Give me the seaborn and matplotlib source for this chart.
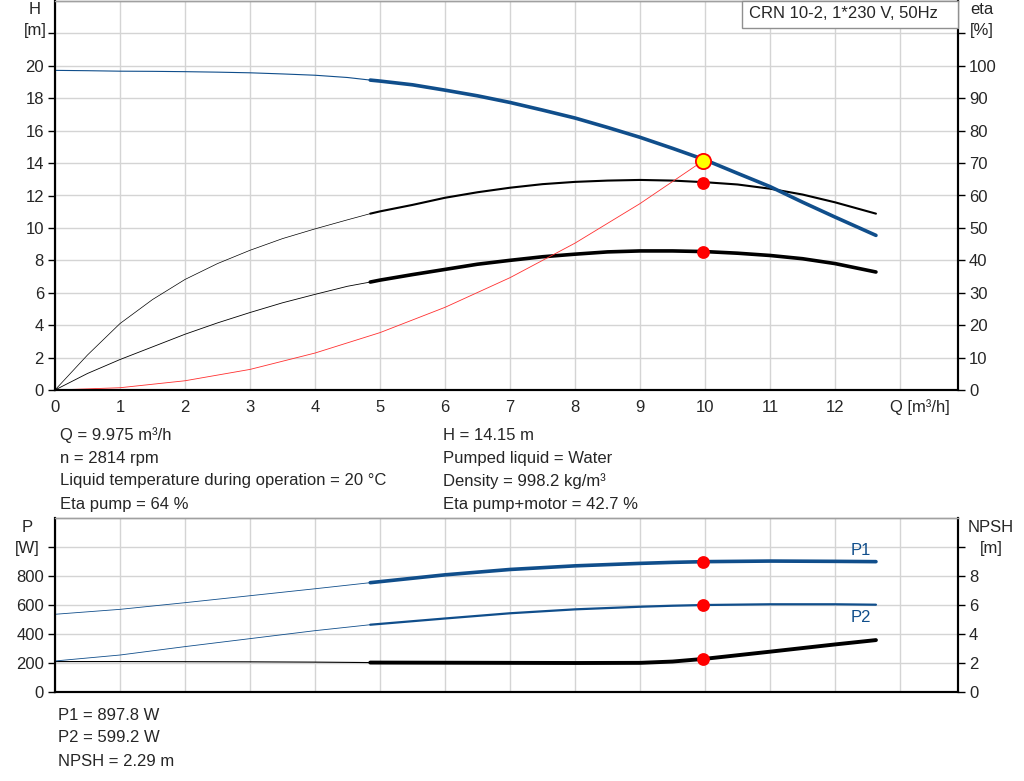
import numpy as np
import matplotlib
matplotlib.use("Agg")
import matplotlib.pyplot as plt
from matplotlib.patches import Rectangle
import seaborn as sns

# pump curves (Q in m3/h)
q = np.array([0, 0.5, 1, 1.5, 2, 2.5, 3, 3.5, 4, 4.5, 4.85, 5, 5.5, 6, 6.5, 7,
              7.5, 8, 8.5, 9, 9.5, 10, 10.5, 11, 11.5, 12, 12.63])
head = np.array([19.72, 19.70, 19.67, 19.66, 19.64, 19.61, 19.57, 19.50, 19.42, 19.28, 19.12,
                 19.06, 18.83, 18.5, 18.15, 17.74, 17.27, 16.78, 16.2, 15.59, 14.91, 14.2,
                 13.37, 12.55, 11.59, 10.67, 9.54])
eta_pump = np.array([0, 10.8, 20.5, 27.9, 34.1, 39, 43.1, 46.7, 49.7, 52.5, 54.4, 55.1, 57.1,
                     59.3, 61, 62.4, 63.5, 64.2, 64.6, 64.8, 64.6, 64.1, 63.4, 62.1, 60.3,
                     57.9, 54.4])
eta_total = np.array([0, 5.1, 9.4, 13.3, 17.2, 20.7, 23.9, 26.9, 29.5, 32, 33.3, 33.9, 35.6,
                      37.2, 38.8, 40, 41.1, 41.9, 42.6, 42.9, 42.9, 42.7, 42.2, 41.5, 40.5,
                      39.0, 36.4])

# system curve up to the duty point
q_sys = np.array([0, 1, 2, 3, 4, 5, 6, 7, 8, 9, 9.975])
h_sys = np.array([0, 0.14, 0.57, 1.27, 2.28, 3.54, 5.1, 6.93, 9.06, 11.5, 14.15])

# power / NPSH
q_p = np.array([0, 1, 2, 3, 4, 4.85, 6, 7, 8, 9, 9.5, 10, 11, 12, 12.63])
p1 = np.array([536, 570, 616, 664, 712, 754, 808, 845, 870, 887, 894, 899, 903, 901, 899])
p2 = np.array([214, 255, 313, 368, 423, 464, 507, 543, 570, 588, 595, 600, 605, 605, 602])
npsh = np.array([2.1, 2.1, 2.09, 2.08, 2.06, 2.03, 2.02, 2.01, 2.0, 2.01, 2.1, 2.29, 2.78,
                 3.28, 3.58])

# duty point
q_duty = 9.975
h_duty = 14.15
eta_duty = 64
eta_tot_duty = 42.7
p1_duty = 897.8
p2_duty = 599.2
npsh_duty = 2.29

info_left = ["Q = 9.975 m³/h", "n = 2814 rpm",
             "Liquid temperature during operation = 20 °C", "Eta pump = 64 %"]
info_right = ["H = 14.15 m", "Pumped liquid = Water",
              "Density = 998.2 kg/m³", "Eta pump+motor = 42.7 %"]
info_bottom = ["P1 = 897.8 W", "P2 = 599.2 W", "NPSH = 2.29 m"]
title = "CRN 10-2, 1*230 V, 50Hz"

BLUE = "#104e8b"
GRID = "#d4d4d4"
Q_SPLIT = 4.85
FS = 12

sns.set_style("white")
plt.rcParams["font.family"] = ["Liberation Sans", "DejaVu Sans"]

W, H = 1024, 781
fig = plt.figure(figsize=(W / 100, H / 100), dpi=100)


def box(l, t, r, b):
    return [l / W, 1 - b / H, (r - l) / W, (b - t) / H]


def curve(ax, x, y, color, thin, thick):
    lo = x <= Q_SPLIT
    hi = x >= Q_SPLIT
    sns.lineplot(x=x[lo], y=y[lo], ax=ax, color=color, linewidth=thin)
    sns.lineplot(x=x[hi], y=y[hi], ax=ax, color=color, linewidth=thick)


def style_frame(ax):
    for s in ["left", "bottom", "right"]:
        ax.spines[s].set_color("black")
        ax.spines[s].set_linewidth(1.5)
    ax.spines["top"].set_color("#a0a0a0")
    ax.spines["top"].set_linewidth(1.0)


def ticks(a):
    a.tick_params(axis="both", which="both", direction="out", length=5, width=1,
                  labelsize=FS, color="black", pad=3)


def grid_below(a2):
    # grid drawn on the lower twin so it never crosses the curves of the upper one
    a2.xaxis.set_visible(True)
    a2.set_xticks(range(0, 14))
    a2.tick_params(axis="x", bottom=False, top=False, labelbottom=False, labeltop=False)
    a2.grid(True, color=GRID, linewidth=1.0)
    a2.set_axisbelow(True)


QMAX = 903 / 65.0

# ---- top panel: H and eta ----
ax = fig.add_axes(box(55, 1, 958, 390))
ax2 = ax.twinx()
ax.set_zorder(ax2.get_zorder() + 1)
ax.patch.set_visible(False)

sns.lineplot(x=q_sys, y=h_sys, ax=ax, color="#ff3030", linewidth=0.6)
curve(ax, q, head, BLUE, 0.8, 2.6)
curve(ax2, q, eta_pump, "black", 0.5, 1.5)
curve(ax2, q, eta_total, "black", 0.6, 2.6)

sns.scatterplot(x=[q_duty, q_duty], y=[eta_duty, eta_tot_duty], ax=ax2, color="red",
                s=85, linewidth=0, zorder=5)
sns.scatterplot(x=[q_duty], y=[h_duty], ax=ax, color="yellow", edgecolor="red",
                s=120, linewidth=1.3, zorder=6, clip_on=False)

ax.set_xlim(0, QMAX)
ax.set_ylim(0, 24)
ax2.set_ylim(0, 120)
ax.set_xticks(range(0, 14))
ax.set_xticklabels([str(i) for i in range(13)] + [""])
ax.set_yticks(range(0, 23, 2))
ax.set_yticklabels([str(i) for i in range(0, 21, 2)] + [""])
ax2.set_yticks(range(0, 111, 10))
ax2.set_yticklabels([str(i) for i in range(0, 101, 10)] + [""])
ax.grid(False)
for a in (ax, ax2):
    a.set_xlabel("")
    a.set_ylabel("")
    style_frame(a)
    ticks(a)
grid_below(ax2)
ax.tick_params(axis="x", length=4)
ax.annotate("Q [m³/h]", xy=(12.85, 0), xycoords=("data", "axes fraction"),
            xytext=(0, -12.5), textcoords="offset points", ha="left", va="center",
            fontsize=FS)

fig.text(35 / W, 1 - 9 / H, "H", ha="center", va="center", fontsize=FS)
fig.text(35 / W, 1 - 30 / H, "[m]", ha="center", va="center", fontsize=FS)
fig.text(982 / W, 1 - 9 / H, "eta", ha="center", va="center", fontsize=FS)
fig.text(982 / W, 1 - 30 / H, "[%]", ha="center", va="center", fontsize=FS)

fig.add_artist(Rectangle((742 / W, 1 - 28 / H), 216 / W, 27 / H, transform=fig.transFigure,
                         facecolor="white", edgecolor="#909090", linewidth=1, zorder=10))
fig.text(749 / W, 1 - 14 / H, title, ha="left", va="center", fontsize=FS, zorder=11)

for i, s in enumerate(info_left):
    fig.text(60 / W, 1 - (435 + 23 * i) / H, s, ha="left", va="center", fontsize=FS)
for i, s in enumerate(info_right):
    fig.text(443 / W, 1 - (435 + 23 * i) / H, s, ha="left", va="center", fontsize=FS)

# ---- bottom panel: P and NPSH ----
bx = fig.add_axes(box(55, 518, 958, 692))
bx2 = bx.twinx()
bx.set_zorder(bx2.get_zorder() + 1)
bx.patch.set_visible(False)

curve(bx2, q_p, npsh, "black", 0.8, 2.8)
curve(bx, q_p, p1, BLUE, 0.6, 2.6)
curve(bx, q_p, p2, BLUE, 0.6, 1.6)
sns.scatterplot(x=[q_duty, q_duty], y=[p1_duty, p2_duty], ax=bx, color="red",
                s=85, linewidth=0, zorder=5)
sns.scatterplot(x=[q_duty], y=[npsh_duty], ax=bx2, color="red",
                s=85, linewidth=0, zorder=5)

bx.set_xlim(0, QMAX)
bx.set_ylim(0, 1200)
bx2.set_ylim(0, 12)
bx.set_xticks(range(0, 14))
bx.set_xticklabels([])
bx.set_yticks(range(0, 1001, 200))
bx.set_yticklabels([str(i) for i in range(0, 801, 200)] + [""])
bx2.set_yticks(range(0, 11, 2))
bx2.set_yticklabels([str(i) for i in range(0, 9, 2)] + [""])
bx.grid(False)
for a in (bx, bx2):
    a.set_xlabel("")
    a.set_ylabel("")
    style_frame(a)
    ticks(a)
grid_below(bx2)
bx.tick_params(axis="x", length=0)

bx.text(12.4, 925, "P1", color=BLUE, ha="center", va="bottom", fontsize=FS)
bx.text(12.4, 565, "P2", color=BLUE, ha="center", va="top", fontsize=FS)

fig.text(27 / W, 1 - 527 / H, "P", ha="center", va="center", fontsize=FS)
fig.text(27 / W, 1 - 548 / H, "[W]", ha="center", va="center", fontsize=FS)
fig.text(991 / W, 1 - 527 / H, "NPSH", ha="center", va="center", fontsize=FS)
fig.text(991 / W, 1 - 548 / H, "[m]", ha="center", va="center", fontsize=FS)

for i, s in enumerate(info_bottom):
    fig.text(58 / W, 1 - (715 + 23 * i) / H, s, ha="left", va="center", fontsize=FS)

fig.savefig("out.png", dpi=100, facecolor="white")
